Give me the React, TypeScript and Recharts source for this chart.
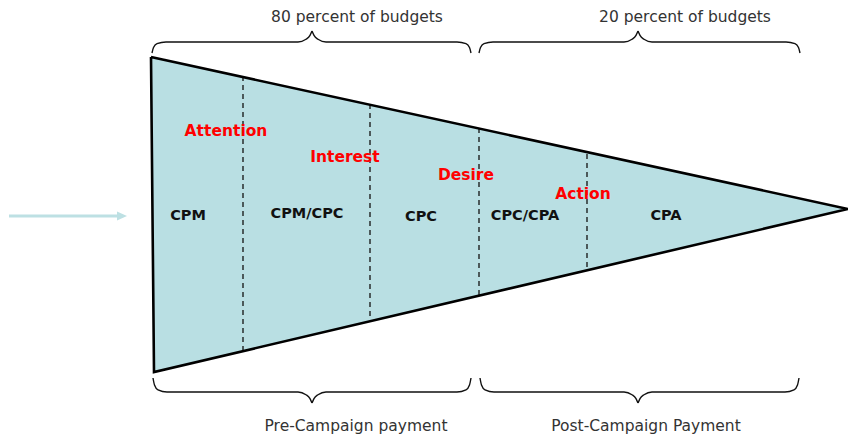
import {
  ComposedChart,
  Area,
  Line,
  Scatter,
  XAxis,
  YAxis,
} from "recharts";

// diagram space: x 0..848 left to right, y 0..441 top to bottom
const funnelOutline = [
  { x: 151, y: 57 },
  { x: 848, y: 209 },
  { x: 154, y: 372 },
  { x: 151, y: 57 },
];
const funnelBand = [
  { x: 151, band: [57, 57] },
  { x: 154, band: [57.7, 372] },
  { x: 848, band: [209, 209] },
];

const dividerX = [243, 370, 479, 587];
const dividerTop = [76, 104, 128, 154];
const dividerBottom = [350, 318, 296, 271];

const stageNames = ["Attention", "Interest", "Desire", "Action"];
const stageX = [226, 345, 466, 583];
const stageY = [131, 157, 175, 194];

const modelNames = ["CPM", "CPM/CPC", "CPC", "CPC/CPA", "CPA"];
const modelX = [188, 307, 421, 525, 666];
const modelY = [215, 213, 216, 215, 215];

const budgetLabels = ["80 percent of budgets", "20 percent of budgets"];
const budgetStart = [152, 479];
const budgetTip = [312, 638];
const budgetEnd = [471, 800];
const budgetLabelX = [357, 685];

const paymentLabels = ["Pre-Campaign payment", "Post-Campaign Payment"];
const paymentStart = [153, 480];
const paymentTip = [312, 638];
const paymentEnd = [471, 799];
const paymentLabelX = [356, 646];

const arrowLine = [
  { x: 9, y: 216 },
  { x: 119, y: 216 },
];
const arrowHead = [{ x: 127, y: 216 }];

const FONT = "'DejaVu Sans', sans-serif";

// one half of a curly brace, from an end to the tip
function braceHalf(from: number, tip: number, yEnd: number, yFlat: number, yTip: number) {
  const dir = tip > from ? 1 : -1;
  const pts = [
    { x: from, y: yEnd },
    { x: from + dir * 1.5, y: yEnd + (yFlat - yEnd) * 0.5 },
    { x: from + dir * 5, y: yEnd + (yFlat - yEnd) * 0.85 },
    { x: from + dir * 14, y: yFlat },
    { x: tip - dir * 14, y: yFlat },
    { x: tip - dir * 6, y: yFlat + (yTip - yFlat) * 0.25 },
    { x: tip - dir * 2, y: yFlat + (yTip - yFlat) * 0.6 },
    { x: tip, y: yTip },
  ];
  return dir > 0 ? pts : pts.reverse();
}

const budgetBraces = budgetStart.flatMap((s, i) => [
  braceHalf(s, budgetTip[i], 53, 42, 31),
  braceHalf(budgetEnd[i], budgetTip[i], 53, 42, 31),
]);
const paymentBraces = paymentStart.flatMap((s, i) => [
  braceHalf(s, paymentTip[i], 378, 392, 403),
  braceHalf(paymentEnd[i], paymentTip[i], 378, 392, 403),
]);

const dividers = dividerX.map((x, i) => [
  { x, y: dividerTop[i] },
  { x, y: dividerBottom[i] },
]);

const stagePoints = stageNames.map((name, i) => ({ x: stageX[i], y: stageY[i], name }));
const modelPoints = modelNames.map((name, i) => ({ x: modelX[i], y: modelY[i], name }));
const topPoints = budgetLabels.map((name, i) => ({ x: budgetLabelX[i], y: 17, name }));
const bottomPoints = paymentLabels.map((name, i) => ({ x: paymentLabelX[i], y: 426, name }));

const textShape =
  (fill: string, size: number, weight: string | number) => (props: any) =>
    (
      <text
        x={props.cx}
        y={props.cy}
        textAnchor="middle"
        dominantBaseline="central"
        fill={fill}
        fontSize={size}
        fontWeight={weight}
        fontFamily={FONT}
      >
        {props.payload.name}
      </text>
    );

const arrowShape = (props: any) => (
  <polygon
    points={`${props.cx},${props.cy} ${props.cx - 10},${props.cy - 4.5} ${props.cx - 10},${props.cy + 4.5}`}
    fill="#bde0e3"
  />
);

export default function App() {
  return (
    <div style={{ position: "absolute", left: 0, top: 0, background: "#fff" }}>
      <ComposedChart
        width={848}
        height={441}
        margin={{ top: 0, right: 0, bottom: 0, left: 0 }}
      >
        <XAxis type="number" dataKey="x" domain={[0, 848]} hide allowDataOverflow />
        <YAxis type="number" domain={[0, 441]} reversed hide allowDataOverflow />

        <Area
          data={funnelBand}
          dataKey="band"
          type="linear"
          fill="#b9dfe3"
          fillOpacity={1}
          stroke="none"
          activeDot={false}
          isAnimationActive={false}
        />

        {dividers.map((seg, i) => (
          <Line
            key={`div-${i}`}
            data={seg}
            dataKey="y"
            stroke="#111"
            strokeWidth={1.3}
            strokeDasharray="5 4"
            dot={false}
            activeDot={false}
            isAnimationActive={false}
          />
        ))}

        <Line
          data={funnelOutline}
          dataKey="y"
          type="linear"
          stroke="#000"
          strokeWidth={2.6}
          strokeLinejoin="miter"
          dot={false}
          activeDot={false}
          isAnimationActive={false}
        />

        {[...budgetBraces, ...paymentBraces].map((pts, i) => (
          <Line
            key={`brace-${i}`}
            data={pts}
            dataKey="y"
            type="monotone"
            stroke="#111"
            strokeWidth={1.4}
            dot={false}
            activeDot={false}
            isAnimationActive={false}
          />
        ))}

        <Line
          data={arrowLine}
          dataKey="y"
          stroke="#bde0e3"
          strokeWidth={3}
          strokeLinecap="butt"
          dot={false}
          activeDot={false}
          isAnimationActive={false}
        />
        <Scatter data={arrowHead} dataKey="y" shape={arrowShape} isAnimationActive={false} />

        <Scatter
          data={modelPoints}
          dataKey="y"
          shape={textShape("#111", 14.5, "bold")}
          isAnimationActive={false}
        />
        <Scatter
          data={stagePoints}
          dataKey="y"
          shape={textShape("#ff0000", 15.5, "bold")}
          isAnimationActive={false}
        />
        <Scatter
          data={topPoints}
          dataKey="y"
          shape={textShape("#333", 15.5, "normal")}
          isAnimationActive={false}
        />
        <Scatter
          data={bottomPoints}
          dataKey="y"
          shape={textShape("#333", 15.5, "normal")}
          isAnimationActive={false}
        />
      </ComposedChart>
    </div>
  );
}
